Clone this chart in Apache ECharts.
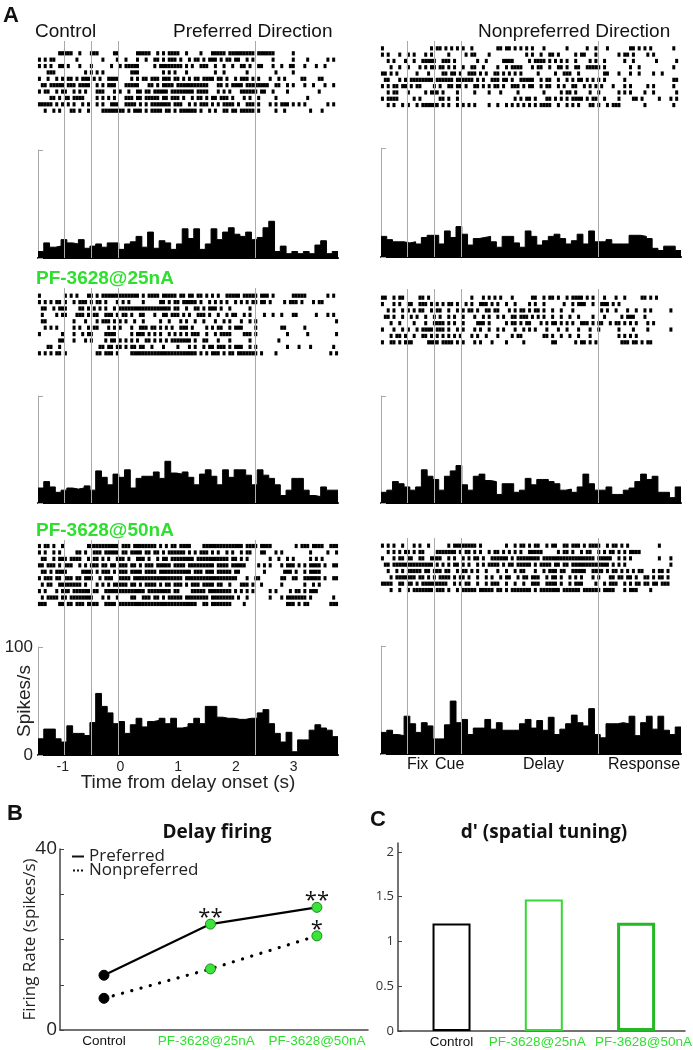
<!DOCTYPE html>
<html>
<head>
<meta charset="utf-8">
<title>PF-3628 delay firing</title>
<script src="https://cdn.jsdelivr.net/npm/echarts@6/dist/echarts.min.js"></script>
<style>
  html, body { margin: 0; padding: 0; background: #fff; }
  #chart { width: 693px; height: 1050px; }
</style>
</head>
<body>
<div id="chart"></div>
<script>
// time axis of panel A (s from delay onset)
const tStart = -1.43;
const binWidth = 0.1;
const spikeStep = 0.05;
const eventTimes = [-0.98, -0.51, -0.04, 2.34];
const timeTicks = [-1, 0, 1, 2, 3];

// PSTH (spikes/s), 0.1 s bins
const histA1 = [6,14,10,11,17,14,13,17,9,11, 13,10,14,14,8,13,15,20,10,24, 9,16,14,8,13,27,18,27,8,13, 27,17,24,28,22,20,24,17,19,28, 34,6,11,4,6,4,6,4,12,16, 4,6];
const histA2 = [19,16,14,14,13,14,12,18,20,20, 12,24,18,28,21,11,17,18,19,14, 9,19,19,13,9,24,19,11,15,19, 21,17,12,15,21,12,24,14,14,16, 12,12,12,20,20,19,17,8,6,10, 10,6];
const histB1 = [14,20,15,10,12,14,13,14,16,12, 30,24,17,27,24,31,14,23,25,25, 29,23,39,28,27,29,24,17,27,31, 25,17,31,24,31,31,26,17,31,26, 23,17,7,12,23,23,12,7,6,15, 12,12];
const histB2 = [10,12,20,18,15,12,15,31,25,22, 12,25,30,35,17,12,25,27,21,20, 8,18,18,10,12,23,17,22,22,20, 18,12,13,10,15,27,18,12,12,15, 8,8,12,14,20,27,22,25,10,10, 5,15];
const histC1 = [15,24,24,15,12,27,20,20,18,30, 57,45,39,29,31,20,28,34,26,31, 32,34,29,34,25,26,29,34,29,45, 45,35,34,34,33,33,34,34,39,42, 29,20,12,21,3,14,14,23,28,25, 23,17];
const histC2 = [20,22,18,17,35,28,20,29,26,14, 14,27,49,29,32,18,24,24,32,23, 29,22,22,22,28,32,24,31,22,34, 18,23,28,36,29,26,42,18,15,28, 28,29,28,35,17,29,35,23,35,22, 18,25];

// spike rasters: one string per trial, one character per 0.05 s ('x' = spike)
const rasterA1 = [
  '.......xxx xx..x...xx x.....xx.. ....xxxxx. .x.x.xxxx. .x....x... xxxxx.xxxx xxxxx.xxxx xx......x. .......... ....x',
  'x.x.xx.... ...x...... ..x....x.. x...x..x.. xx.x.xxx.x ..x.xx.x.x xx.x.xx.xx ..x.x..... .x......x. ...x...... x.x..',
  'x.x.x..xx. x...x...x. .....x..x. xxxxx..... x.xxxxxxxx .x.x..xxx. .x..x..x.. xx.x..xx.. .x..x..xx. ..x...x..x .....',
  '...xxx.... ......x.x. x.x....... ..xxx..... ...x.x.x.. .x........ .x..x..... ..x....... ..x.....x. .......... ....x',
  'x..x..x.x. xx.x.xxx.x .x..xxxx.. ..x.x.xx.x xx.xxx.xx. x.x.xx.xxx x.xx.x..x. xxx.x.x... x..x.x.... .xx....xx. .....',
  '.xx.xxxxx. xxx.xxxx.. x.x.xxx... xxxxx...xx .x.xxxx.xx xxxxxxxxx. ..xx.x.xxx x.xxxxxxxx ..xx..x.x. ..x..x...x ..x.x',
  'x.xx..x.xx ..x.x.x... xxx...x.x. .x..xx.xx. xxxxx.xxxx xxxx.xxxx. ..x.x.x... xxxxxx.xx. .x....x... .......x.. .....',
  '....xx.x.x x.xxxx.... x.x.x.x... xxx.xx.xxx xx.xx.xxx. x..x.xx.x. xx.xxx.x.. .x.x..x... ..x....... ...x...... .....',
  'xxxxx.x.x. x.x..x.x.. x.x..xxx.. xxxx.x.x.x xxxxxx.xxx ..x.x.xxx. x.x.xxxx.x ..xxx.x... x.x.xxx.x. x.x....... x.x.x',
  '..x..x.x.. .xx.x..x.. ..xxxxxxxx .x.xxx.x.x xxx.xx.x.x xxxxx.x..x .x..xx.xx. xxxxx.x... ..x..x.... ....x...x. ....x'
];
const rasterA2 = [
  'x......... .......x.x x.x.x.x.x. .x........ xx.xx.x.x. x.x...x... ....x..... .x..x...x. ......xx.x .x.x...... .x...',
  'x.x...x..x .x...x.x.. ...x.....x .xx....x.. .......... x.x..x..xx .x.....x.x x...x..... ..x.xx.x.. ..x.x..... .....',
  '..x.x...x. .x..xxxxx. .xxx.x.... ...x..x... ..xxxx.... .x.xxxx.x. x.x.x..x.. ..x.x..x.. ....x..x.. .....x.... ..x..',
  '...x..x..x ...x.x.xx. xx.x.x..x. .xx..x.... x..x.xxxx. ..x.xx..x. .xx.x..xx. .xxxxx.x.. ......x..x .......... .x...',
  'xx.x.x.... ..x...x... .xx.xx.x.. xxx.x.x..x x.x.x.x.x. ....x..... x..xxx..x. .......xx. ..x...x..x ....x..x.. .....',
  '.xx...x.x. xxxxxxxx.x xxxxx.xxxx xx.x.x..xx x.xx.x..xx xxx..x.xx. .x..x.x.xx .x.x.x.x.. ....x..... .......... .xx..',
  'x.x.xx.xx. x.xx....x. x..xx.xx.x ..xx.x.x.x x.x..xxx.x .xx..x.xx. .x.x..xx.. x.x.x.x... x...x.x... ..x.x..... .x...',
  '..x.xx...x .....x.xxx .x....x... ..x....x.. .x.....x.. ......x... ..x.xx.x.. ..x..x.... ..x.x.x... .x..x..... ..x.x',
  'x.xxxx.... .x.x...... xx.x..x... .......... ......x.x. xx.x...xx. x.x.x.xxxx .x.xx..x.. ..x....xx. x.....x... x.x.x',
  '..x.x..x.x ..x.xxxxxx .x.x..x.x. x.x....x.. x..x.x.x.x .x.x.xxxx. .x..x.x.x. ..xx.x..x. xxx....... .x........ .x...'
];
const rasterB1 = [
  'x........x .x.x...xx. x.xxxxxxxx xxxxx.x.xx xx.xxxxx.x x.xx.xx.x. x.x..xxxxx .xxxxx.xxx .x......xx xxx....... x.x..',
  'x.x.x.xx.x ..x.xxx.x. xx.x...x.x .x....x... ..xx.x.xx. xxxxx.x..x .x.x.x..x. x.x.xx.xx. x....x.xxx .x...x.xx. .....',
  '.xx..x.xxx ....xx.x.x .x.x..x.xx xxxxxxxxxx xxxxxx.xx. .x..xx.x.x xx.x..x... ...x...... .......... .......... .....',
  '.x....x.xx ...xxx.x.x x..xxx.x.x x.x..xx... x..xx.xxx. x.x..xxx.x ..x..x.xx. .x.x....x. .x..x...xx ......x... x.x..',
  '.xx....... ..x...x... x.xxx.x.x. x..x..x... ..x..x...x .x..x..x.. .x..x.x... x..x.x.... .......... .......... ...xx',
  '..x.x.x... ..x.x..x.x x...x.x.x. ..x..xxx.x x.x.x.x..x xx.x....x. x.xx..x.xx x....x.... ....xx.... ..x....... .....',
  'x.......x. ..x..x.xx. ...xxxx... ..x.xxx.x. x.x..x.x.x .x.xxx..x. .x.xxxx... .xxx.x.... ......x... ...x...... ...xx',
  '.......xx. ..x...x.x. ...x.xx.x. x.x.x..xx. x.x.x.xxxx xxx.x..xx. ..x...x... ...x...... ...x...... .......... .....',
  '...xx..x.. .......... .xx.xx.xx. x.xx.xx..x ...x....x. ..x.x..x.x x.xxx.x.xx x..x.x.... ......x... x...x..... ..x.x',
  'x.x.x.xx.x .......... xx.xxx.x.. ..xxxxxxxx xxxxxxxxxx xxxxx.x.x. xxx.x.xx.x xxxxxx.x.. ..x....... .......... .x.x.'
];
const rasterB2 = [
  'xx..x.xx.. ...xx.x... .......... .x...x.x.x .x...x.... ..xx..x.xx .x..x.xxxx .x.x...x.. .x..x..... xx.x.x.... .....',
  'x...x.x..x x..xxx.x.x .x.xx.x..x .x..xxx.x. x..x..x... .x.x..x... ...x..x.xx x..x..xxx. x.x....... .......... .....',
  '..x.x..x.x .x.xx..x.x x..x..x.x. xx.x..xx.x x...x.x.xx .x.xx.x..x ..x...x... ......x.x. .x...x..x. .x.x...... x....',
  '.xx.x..x.. x.x..x..x. x..x.x..x. ..x..x.x.. x.x..xx.xx x.x.x.x..x ..x..x..x. ...x...x.. ...x.xxx.. .x........ .....',
  '...x..x... .x...x..xx xx.x.x..x. ...xxx.x.. ...x.xx.x. xx...x.x.x x.x.x.x..x xx.x.xx..x .xx.x.x.x. ..x.x..... .....',
  'x...x..x.x ..x.xxxx.x xx.x..x.x. ..x.x..x.. x.x...x..x .x.x...x.. .x..x...x. ..x..x.... ..x....x.. ..x....... x....',
  '...x.xx.x. .x..xx.x.x .x.x.x.x.. .x.x..x... x....x.xx. ......xx.x ..x..x..x. ..x....... ..x.x.x.x. .......... .....',
  'x..xx.x.xx x.....xxxx .xxxx.x.x. ..x.x...x. ...x.....x .........x x......x.x x.x.x..... ...xxx.xx. x.xx...... .....'
];
const rasterC1 = [
  'x.xx.x..x. .......xxx xxxxxxxx.x xx.xxxxxxx x.x.x.xx.x xxx....xxx xxxxxxxxxx x.xxxx.xxx x........x .xxx.xxxx. .xxx.',
  'x.x..x.x.. ...xx.x..x xx.xxxxx.x x.xxxx.xx. xx.x.xxxxx x.x.x.xxx. x.x..x.x.. x.xx...xx. ..x.x..... ....x..... x..x.',
  '.xx..x.xxx .xxxx..x.x x.x.x..xxx .x..xxx.x. .x.xx.xxxx xxxx.xxxxx xxxxxx.xx. x.x....... x..x..x.x. ....x.x.x. .....',
  'xx.xxx.x.x xx..x.x.xx x.xx.xx.xx x.xx.x.xxx .xxxxx.xxx x.xxxxxxxx x.xxxx.xxx xx....x.x. x...x.xxx. x.x.xxxx.x ..xx.',
  '.xx.x.xxxx .....xxxx. x.xxx.x.xx x.xxxx.xxx x.xxxxxxxx xxx.xxx.xx x.xxxxx.xx ........x. .....xxx.x ..x.xxxx.. .....',
  'x.xxx.xx.x xx.xx.xxx. .x.xxx..xx xx.xxxxxxx xxxxxxxxxx .xxxxxxxxx xxxxxxxxx. ..x..xx... ....xx..xx ..xxxxxx.x ..xx.',
  '.x.xx..xxx xxxxx.x... x.x.x.xxxx x.xx.x.xxx x.x.xx.xxx .x.xxx.xxx x.xx..x... xxx.x..x.. ....x..... ..x..x.x.. .....',
  'x.x...x.xx x.xxxxxx.x x..xxxxxxx xxxxxxx.xx xxxxxx.xx. ...xxxxx.x xxxxxxx.x. x.x.x..... x.x....x.x x.x.xxx... .....',
  '.x.xxxx.xx .xxxxxxxx. ..x.x..x.. ..xx..xxx. xx.x.xxxxx .xxxxxxxx. xxxxxxxx.x ..x....... x...x.xxxx xxx.x..... ..x..',
  'xxx....xx. xx.xxx.xxx x..xxxx.xx xxxxxxxxxx xxxxxxxxxx xxxxx..xx. xxxxxxx... .x........ ......xxx. x.xx...... .xxx.'
];
const rasterC2 = [
  'x.x.x..x.. .x.x..x... ...x.xxxxx xxx.x..... ...x..x.xx .x.xx..x.x x..xx.xxx. x.xxxx..x. xx.x.x.... ......x... .....',
  '..x.x.x.xx .x.xx....x xxxxxx.x.x x.x.x..x.x x.x.x.x.x. .xxxxx.... .x.xx.x..x .xx..x.x.x x.x.x.xxxx .......... .....',
  'x...x.xx.x x..xx..xxx x..x.x..x. x.xx.x..xx xxxx.x.xxx xxxxx.xxxx xxxxxxxxxx xxxx.xxxxx ..x.x.x... ......x... x....',
  '.xx.xxxxxx xxxxxxxx.x .x.x.xx.x. x..x.x.xxx x.x.xx.xxx xx.x.xxxx. xx.xx.xxxx xxxxxxxxx. x.x.x..... .......... x....',
  '..x..x.x.x xxxx.xx.xx x.xx..x.xx .x.x..x... x..x..x.xx ...x..x.xx x.xx..xxxx x..xxxx.x. xx.x.x.x.x x...x.xx.x .....',
  '...x.xxxxx xx.xx.x.x. xxxx.x.xx. x..x..x.x. .x.xx..x.x x.xxx..x.x x.x..x.x.x ...x.x...x x.xx.xx.x. .xx.x.xx.x .....',
  'xxxx..xx.x x.x.xxxxxx xxx..x.x.x x..x..x.xx x..x..x..x ..xxx..xxx x.x..x.xxx ....x..x.x xx..x.x.xx .xx.xx.xxx .....',
  '...x..x..x .xxxxxxx.x xx.x..x.xx xxx.xxxxx. xx.x.xxxxx xx.x.xxxxx xx.xxxxxx. xxxxxx.xxx x...x.xxx. ...x...... .....'
];

// panel B: delay firing rate (spikes/s)
const groups = ['Control', 'PF-3628@25nA', 'PF-3628@50nA'];
const prefRate = [12.1, 23.4, 27.1];
const nonprefRate = [7.0, 13.5, 20.8];
const prefStars = ['', '**', '**'];
const nonprefStars = ['', '', '*'];

// panel C: d' (spatial tuning)
const dPrime = [1.20, 1.47, 1.21];

const chart = echarts.init(document.getElementById('chart'));

const armFont = 'Liberation Sans, Arial, sans-serif';
const segFont = 'Open Sans, sans-serif';
const green = '#2fdf2f';
const plotW = 300;
const tEnd = tStart + binWidth * histA1.length;

function spikesFromRows(rows) {
  const pts = [];
  rows.forEach((row, r) => {
    const s = row.replace(/ /g, '');
    for (let i = 0; i < s.length; i++) {
      const t = tStart + (i + 0.5) * spikeStep;
      if (s[i] === 'x' && t < tEnd) pts.push([t, r + 0.5]);
    }
  });
  return pts;
}

// bin left edges for a filled step histogram (last bin closed at tEnd)
function psthSteps(hist) {
  const pts = hist.map((v, i) => [tStart + i * binWidth, v]);
  pts.push([tEnd, hist[hist.length - 1]]);
  return pts;
}

// layout of the six raster + PSTH blocks
const panels = [
  { raster: rasterA1, hist: histA1, left: 38, rasterTop: 50.1, rasterH: 63.8, lineTop: 41, histTop: 150, histH: 108 },
  { raster: rasterA2, hist: histA2, left: 381, rasterTop: 45.2, rasterH: 63, lineTop: 41, histTop: 148.5, histH: 108.5 },
  { raster: rasterB1, hist: histB1, left: 38, rasterTop: 292.5, rasterH: 64, lineTop: 288, histTop: 396, histH: 107 },
  { raster: rasterB2, hist: histB2, left: 381, rasterTop: 294.5, rasterH: 51, lineTop: 289, histTop: 396, histH: 107 },
  { raster: rasterC1, hist: histC1, left: 38, rasterTop: 542.8, rasterH: 64.4, lineTop: 540, histTop: 647, histH: 108, labelled: true },
  { raster: rasterC2, hist: histC2, left: 381, rasterTop: 542.5, rasterH: 50.7, lineTop: 538, histTop: 646, histH: 108 }
];

const grid = [], xAxis = [], yAxis = [], series = [];
function addGrid(g) {
  return grid.push(Object.assign({ outerBoundsMode: 'none', containLabel: false }, g)) - 1;
}

panels.forEach(p => {
  // event lines (fixation, cue, delay, response)
  let gi = addGrid({ left: p.left, top: p.lineTop, width: plotW, height: p.histTop + p.histH - p.lineTop });
  xAxis.push({
    gridIndex: gi, type: 'value', min: tStart, max: tEnd, show: !!p.labelled,
    axisLine: { show: false }, axisTick: { show: false }, splitLine: { show: false },
    axisLabel: { customValues: timeTicks, fontSize: 14, color: '#222', fontFamily: armFont, margin: 5 },
    name: 'Time from delay onset (s)', nameLocation: 'middle', nameGap: 18, nameMoveOverlap: false,
    nameTextStyle: { fontSize: 19, color: '#222', fontFamily: armFont, verticalAlign: 'top' }
  });
  yAxis.push({ gridIndex: gi, type: 'value', min: 0, max: 1, show: false });
  series.push({
    type: 'line', xAxisIndex: xAxis.length - 1, yAxisIndex: yAxis.length - 1, data: [], silent: true, z: 1,
    markLine: {
      silent: true, symbol: 'none', animation: false, label: { show: false },
      emphasis: { disabled: true },
      lineStyle: { color: '#aaaaaa', width: 1, type: 'solid' },
      data: eventTimes.map(t => ({ xAxis: t }))
    }
  });

  // raster
  gi = addGrid({ left: p.left, top: p.rasterTop, width: plotW, height: p.rasterH });
  xAxis.push({ gridIndex: gi, type: 'value', min: tStart, max: tEnd, show: false });
  yAxis.push({ gridIndex: gi, type: 'value', min: 0, max: p.raster.length, inverse: true, show: false });
  series.push({
    type: 'scatter', xAxisIndex: xAxis.length - 1, yAxisIndex: yAxis.length - 1,
    symbol: 'rect', symbolSize: [3, 4.2], itemStyle: { color: '#000', opacity: 1 },
    data: spikesFromRows(p.raster), silent: true, z: 3
  });

  // PSTH as filled step outline
  gi = addGrid({ left: p.left, top: p.histTop, width: plotW, height: p.histH });
  xAxis.push({
    gridIndex: gi, type: 'value', min: tStart, max: tEnd,
    axisLine: { show: true, lineStyle: { color: '#000', width: 2 } },
    axisTick: { show: false }, axisLabel: { show: false }, splitLine: { show: false }
  });
  yAxis.push({
    gridIndex: gi, type: 'value', min: 0, max: 100, interval: 100,
    axisLine: { show: true, onZero: false, lineStyle: { color: '#a8a8a8', width: 1 } },
    axisTick: { show: true, inside: true, length: 5, lineStyle: { color: '#a8a8a8' } },
    splitLine: { show: false },
    axisLabel: p.labelled ? { fontSize: 17, color: '#222', fontFamily: armFont, margin: 5 } : { show: false },
    name: p.labelled ? 'Spikes/s' : '', nameLocation: 'middle', nameGap: 4, nameMoveOverlap: false,
    nameTextStyle: { fontSize: 19, color: '#222', fontFamily: armFont }
  });
  series.push({
    type: 'line', xAxisIndex: xAxis.length - 1, yAxisIndex: yAxis.length - 1,
    data: psthSteps(p.hist), step: 'end', symbol: 'none',
    lineStyle: { color: '#000', width: 1 },
    areaStyle: { color: '#000', opacity: 1 },
    silent: true, z: 3
  });
});

// category label style shared by B and C
function groupLabel(positions) {
  return {
    customValues: positions,
    margin: 4,
    hideOverlap: false,
    formatter: v => {
      const i = Math.round(v);
      return i === 0 ? '{k|' + groups[i] + '}' : '{g|' + groups[i] + '}';
    },
    rich: {
      k: { color: '#111', fontSize: 13.5, fontFamily: armFont },
      g: { color: green, fontSize: 13.5, fontFamily: armFont }
    }
  };
}

// panel B
const gB = addGrid({ left: 60, top: 849, width: 308, height: 181 });
xAxis.push({
  gridIndex: gB, type: 'value', min: -0.413, max: 2.48,
  axisLine: { show: true, onZero: false, lineStyle: { color: '#444', width: 1.5 } },
  axisTick: { show: false }, splitLine: { show: false },
  axisLabel: groupLabel([0, 0.96, 2])
});
yAxis.push({
  gridIndex: gB, type: 'value', min: 0, max: 40, interval: 10,
  axisLine: { show: true, onZero: false, lineStyle: { color: '#444', width: 1.5 } },
  axisTick: { show: true, inside: true, length: 4, lineStyle: { color: '#444' } },
  splitLine: { show: false },
  axisLabel: { fontSize: 19, color: '#222', fontFamily: segFont, margin: 3, formatter: v => (v === 0 || v === 40) ? String(v) : '' },
  name: 'Firing Rate (spikes/s)', nameLocation: 'middle', nameGap: 21, nameMoveOverlap: false,
  nameTextStyle: { fontSize: 17, color: '#222', fontFamily: segFont }
});
const bx = xAxis.length - 1, by = yAxis.length - 1;
function rateItems(vals) {
  return vals.map((v, i) => ({
    value: [i, v],
    itemStyle: i === 0 ? { color: '#000', borderColor: '#000', borderWidth: 1 } : { color: '#3be43b', borderColor: '#1b8c1b', borderWidth: 1 }
  }));
}
series.push({
  name: 'Preferred', type: 'line', xAxisIndex: bx, yAxisIndex: by,
  data: rateItems(prefRate), symbol: 'circle', symbolSize: 10,
  lineStyle: { color: '#000', width: 2.2 }, itemStyle: { color: '#000' },
  label: {
    show: true, position: 'top', distance: 0, offset: [0, 10],
    formatter: p => prefStars[p.dataIndex], fontSize: 22, color: '#111', fontFamily: segFont
  },
  z: 5
});
series.push({
  name: 'Nonpreferred', type: 'line', xAxisIndex: bx, yAxisIndex: by,
  data: rateItems(nonprefRate), symbol: 'circle', symbolSize: 10,
  lineStyle: { color: '#000', width: 3.2, type: [0.1, 9.5], cap: 'round' }, itemStyle: { color: '#000' },
  label: {
    show: true, position: 'top', distance: 0, offset: [0, 10],
    formatter: p => nonprefStars[p.dataIndex], fontSize: 22, color: '#111', fontFamily: segFont
  },
  z: 5
});

// panel C
const gC = addGrid({ left: 398, top: 843, width: 287, height: 188 });
xAxis.push({
  gridIndex: gC, type: 'value', min: -0.58, max: 2.53,
  axisLine: { show: true, onZero: false, lineStyle: { color: '#444', width: 1.5 } },
  axisTick: { show: false }, splitLine: { show: false },
  axisLabel: groupLabel([0, 0.93, 2.08])
});
yAxis.push({
  gridIndex: gC, type: 'value', min: 0, max: 2.1, interval: 0.5,
  axisLine: { show: true, onZero: false, lineStyle: { color: '#444', width: 1.5 } },
  axisTick: { show: true, inside: true, length: 4, lineStyle: { color: '#444' } },
  splitLine: { show: false },
  axisLabel: { fontSize: 13, color: '#333', fontFamily: segFont, margin: 4 }
});
const barBorders = [
  { color: '#000', width: 2 },
  { color: '#35d835', width: 2 },
  { color: '#25b825', width: 3 }
];
series.push({
  type: 'bar', xAxisIndex: xAxis.length - 1, yAxisIndex: yAxis.length - 1,
  barWidth: 38,
  data: dPrime.map((v, i) => ({
    value: [i, v],
    itemStyle: { color: '#fff', borderColor: barBorders[i].color, borderWidth: barBorders[i].width }
  })),
  silent: true
});

function txt(text, left, top, size, opts) {
  return Object.assign({
    text, left, top, padding: 0,
    textStyle: Object.assign({ fontSize: size, fontFamily: armFont, fontWeight: 'normal', color: '#111' }, (opts && opts.style) || {})
  }, (opts && opts.extra) || {});
}

const option = {
  animation: false,
  backgroundColor: '#fff',
  title: [
    txt('A', 3, 4.5, 22, { style: { fontWeight: 'bold' } }),
    txt('Control', 35, 22.5, 19),
    txt('Preferred Direction', 173, 22.5, 19),
    txt('Nonpreferred Direction', 478, 22.5, 19),
    txt('PF-3628@25nA', 36, 269, 19, { style: { fontWeight: 'bold', color: green } }),
    txt('PF-3628@50nA', 36, 521.5, 19, { style: { fontWeight: 'bold', color: green } }),
    txt('Fix', 407, 757, 16),
    txt('Cue', 435, 757, 16),
    txt('Delay', 523, 757, 16),
    txt('Response', 608, 757, 16),
    txt('B', 7, 803, 22, { style: { fontWeight: 'bold' } }),
    txt('C', 370, 808.5, 22, { style: { fontWeight: 'bold' } }),
    txt('Delay firing', 217, 823, 19, { style: { fontWeight: 'bold', fontFamily: segFont }, extra: { textAlign: 'center' } }),
    txt("d' (spatial tuning)", 544, 823, 19, { style: { fontWeight: 'bold', fontFamily: segFont }, extra: { textAlign: 'center' } })
  ],
  legend: {
    left: 67, top: 843, orient: 'vertical', itemGap: -3, itemWidth: 12, itemHeight: 2,
    selectedMode: false,
    textStyle: { fontSize: 17, color: '#222', fontFamily: segFont },
    data: [
      { name: 'Preferred', icon: 'rect', itemStyle: { color: '#111' } },
      { name: 'Nonpreferred', icon: 'path://M0,0h2v2h-2z M4,0h2v2h-2z M8,0h2v2h-2z', itemStyle: { color: '#111' } }
    ]
  },
  grid, xAxis, yAxis, series
};

chart.setOption(option);
</script>
</body>
</html>
